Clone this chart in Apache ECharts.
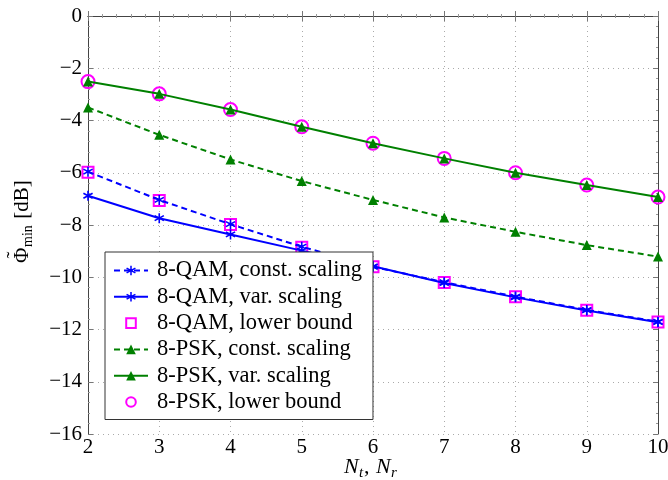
<!DOCTYPE html>
<html><head><meta charset="utf-8">
<script src="https://cdn.jsdelivr.net/npm/echarts@6/dist/echarts.min.js"></script>
<style>html,body{margin:0;padding:0;background:#fff}#c{width:668px;height:480px}</style>
</head><body><div id="c"></div>
<script>
const xs = [2, 3, 4, 5, 6, 7, 8, 9, 10];
const qamConst = [-5.96, -7.04, -7.97, -8.83, -9.60, -10.19, -10.74, -11.25, -11.70];
const qamVar = [-6.88, -7.74, -8.36, -8.98, -9.58, -10.22, -10.77, -11.27, -11.72];
const qamLB = [-5.98, -7.06, -7.98, -8.85, -9.60, -10.20, -10.75, -11.26, -11.71];
const pskConst = [-3.50, -4.55, -5.49, -6.32, -7.04, -7.71, -8.26, -8.77, -9.21];
const pskVar = [-2.51, -2.98, -3.58, -4.24, -4.87, -5.45, -6.00, -6.47, -6.93];
const pskLB = [-2.51, -2.98, -3.58, -4.24, -4.87, -5.45, -6.00, -6.47, -6.93];
const names = ['8-QAM, const. scaling', '8-QAM, var. scaling', '8-QAM, lower bound',
               '8-PSK, const. scaling', '8-PSK, var. scaling', '8-PSK, lower bound'];

const pairs = a => xs.map((x, i) => [x, a[i]]);
const FONT = 'Liberation Serif';
const star = 'path://M-0.15,-1L0.15,-1L0.15,1L-0.15,1Z M0.791,-0.63L0.941,-0.37L-0.791,0.63L-0.941,0.37Z M0.941,0.37L0.791,0.63L-0.941,-0.37L-0.791,-0.63Z';
const minus = v => String(v).replace('-', '\u2212');
const axisCommon = {
  axisLine: {show: true, lineStyle: {color: '#444', width: 1}},
  axisTick: {show: true, inside: true, length: 5, lineStyle: {color: '#777'}},
  minorTick: {show: true, splitNumber: 5, length: 2, lineStyle: {color: '#999'}},
};
const txt = (x, y, text, size, extra) => ({
  type: 'text', x: x, y: y,
  style: Object.assign({text: text, fontFamily: FONT, fontSize: size, fill: '#000',
    textAlign: 'left', textVerticalAlign: 'middle'}, extra || {})
});
const it = {fontStyle: 'italic'};
const chart = echarts.init(document.getElementById('c'), null, {renderer: 'canvas'});
chart.setOption({
  animation: false,
  backgroundColor: '#fff',
  grid: {left: 88, right: 10, top: 16, bottom: 46, show: false, containLabel: false, outerBoundsMode: 'none'},
  graphic: [{
    type: 'group', x: 22, y: 222, rotation: Math.PI / 2,
    children: [
      txt(-41, 0, '\u03A6', 21),
      txt(-33, -7, '\u02DC', 21, {textAlign: 'center'}),
      txt(-25, 6, 'min', 14),
      txt(-2, 0, ' [dB]', 21)
    ]
  }, {
    type: 'group', x: 0, y: 467,
    children: [
      txt(344, 0, 'N', 22, it),
      txt(359, 6, 't', 15, it),
      txt(364, 0, ',', 22),
      txt(376, 0, 'N', 22, it),
      txt(391, 6, 'r', 15, it)
    ]
  }],
  xAxis: [{
    type: 'value', min: 2, max: 10, interval: 1,
    ...axisCommon,
    axisLabel: {fontFamily: FONT, fontSize: 21, color: '#000', margin: 3},
    splitLine: {show: true, lineStyle: {type: [1, 4], color: '#aaa'}}
  }, {
    type: 'value', min: 2, max: 10, interval: 1, position: 'top',
    ...axisCommon, axisLabel: {show: false}, splitLine: {show: false}
  }],
  yAxis: [{
    type: 'value', min: -16, max: 0, interval: 2,
    ...axisCommon,
    axisLabel: {fontFamily: FONT, fontSize: 21, color: '#000', margin: 6, formatter: minus},
    splitLine: {show: true, lineStyle: {type: [1, 4], color: '#aaa'}}
  }, {
    type: 'value', min: -16, max: 0, interval: 2, position: 'right',
    ...axisCommon, axisLabel: {show: false}, splitLine: {show: false}
  }],
  legend: {
    orient: 'vertical', left: 105, top: 252,
    padding: [7, 11, 6, 8],
    itemWidth: 34, itemHeight: 12, itemGap: 3.3,
    backgroundColor: '#fff', borderColor: '#333', borderWidth: 1,
    textStyle: {fontFamily: FONT, fontSize: 22.5, color: '#000', padding: [0, 0, 0, 4]},
    data: names
  },
  series: [
    {name: names[2], type: 'line', data: pairs(qamLB), symbol: 'rect', symbolSize: 11,
     lineStyle: {opacity: 0, width: 0}, itemStyle: {color: '#fff', borderColor: '#ff00ff', borderWidth: 2}, z: 2},
    {name: names[0], type: 'line', data: pairs(qamConst), symbol: star, symbolSize: 10,
     lineStyle: {color: '#0000ff', width: 2, type: [6, 4]}, itemStyle: {color: '#0000ff'}, z: 3},
    {name: names[1], type: 'line', data: pairs(qamVar), symbol: star, symbolSize: 10,
     lineStyle: {color: '#0000ff', width: 2}, itemStyle: {color: '#0000ff'}, z: 3},
    {name: names[5], type: 'line', data: pairs(pskLB), symbol: 'circle', symbolSize: 13,
     lineStyle: {opacity: 0, width: 0}, itemStyle: {color: 'rgba(255,255,255,0)', borderColor: '#ff00ff', borderWidth: 2}, z: 2},
    {name: names[3], type: 'line', data: pairs(pskConst), symbol: 'triangle', symbolSize: 10,
     lineStyle: {color: '#008000', width: 2, type: [6, 4]}, itemStyle: {color: '#008000'}, z: 3},
    {name: names[4], type: 'line', data: pairs(pskVar), symbol: 'triangle', symbolSize: 10,
     lineStyle: {color: '#008000', width: 2}, itemStyle: {color: '#008000'}, z: 3}
  ]
});
</script></body></html>
